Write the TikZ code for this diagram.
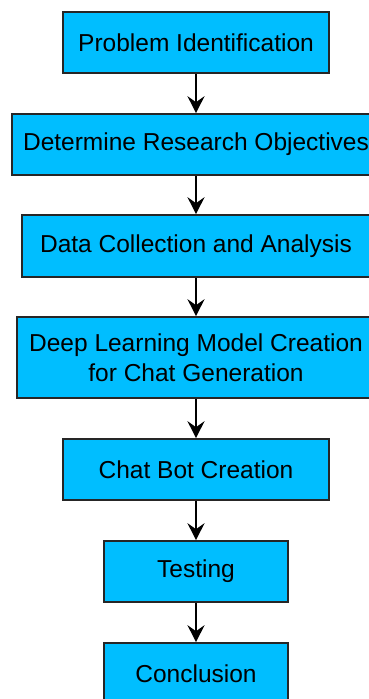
\documentclass[tikz,border=0pt]{standalone}
\usepackage{fontspec}
\setmainfont{Liberation Sans}
\usepackage{tikz}
\usetikzlibrary{arrows.meta}
\definecolor{boxblue}{RGB}{0,190,255}

\begin{document}
\begin{tikzpicture}[x=1pt,y=-1pt,
  stage/.style={draw=black!85,line width=1.6pt,fill=boxblue,inner sep=0pt,
    align=center,font=\fontsize{24.5}{30}\selectfont,minimum height=61pt},
  flow/.style={line width=1.8pt,-{Stealth[length=17pt,width=17pt,inset=6pt]}}]
\clip (0,0) rectangle (369,699);
\node[stage,minimum width=266pt] (prob) at (196,42.5) {Problem Identification};
\node[stage,minimum width=368pt] (obj) at (196,144.5) {Determine Research Objectives};
\node[stage,minimum width=348pt,minimum height=62pt] (data) at (196,246) {Data Collection and Analysis};
\node[stage,minimum width=358pt,minimum height=81pt] (model) at (196,357.5)
  {Deep Learning Model Creation\\for Chat Generation};
\node[stage,minimum width=266pt] (bot) at (196,469.5) {Chat Bot Creation};
\node[stage,minimum width=184pt] (test) at (196,571.5) {Testing};
\node[stage,minimum width=184pt] (concl) at (196,673.5) {Conclusion};
% arrows between the stages
\draw[flow] (prob) -- (obj);
\draw[flow] (obj) -- (data);
\draw[flow] (data) -- (model);
\draw[flow] (model) -- (bot);
\draw[flow] (bot) -- (test);
\draw[flow] (test) -- (concl);
\end{tikzpicture}
\end{document}
